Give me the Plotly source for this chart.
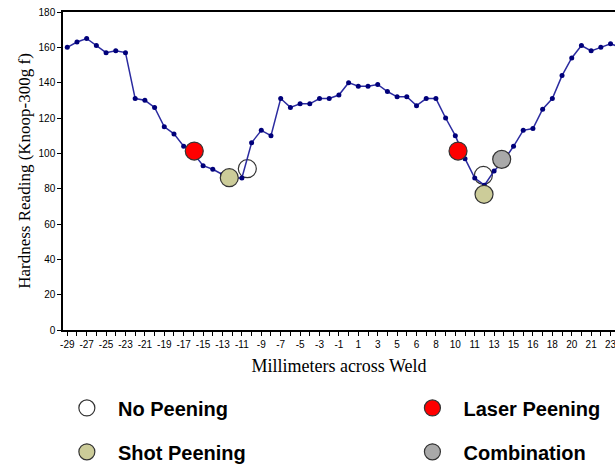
import plotly.graph_objects as go

# Hardness profile (one reading per position index across the weld)
hardness = [160, 163, 165, 161, 157, 158, 157, 131, 130, 126,
            115, 111, 104, 100, 93, 91, 88, 86, 86, 106,
            113, 110, 131, 126, 128, 128, 131, 131, 133, 140,
            138, 138, 139, 135, 132, 132, 127, 131, 131, 120,
            110, 97, 86, 82, 90, 96, 104, 113, 114, 125,
            131, 144, 154, 161, 158, 160, 162, 160]
positions = list(range(len(hardness)))

# Tick labels (mm across weld), one label every second reading
tick_labels = ["-29", "-27", "-25", "-23", "-21", "-19", "-17", "-15", "-13", "-11",
               "-9", "-7", "-5", "-3", "-1", "1", "3", "5", "6", "8",
               "10", "11", "13", "15", "16", "18", "20", "21", "23"]

# Peening condition markers (position index, hardness)
no_peening_x = [18.56, 42.89]
no_peening_y = [91.3, 87.5]
laser_x = [13.09, 40.28]
laser_y = [101.3, 101.3]
shot_x = [16.7, 42.96]
shot_y = [86.2, 76.8]
combo_x = [44.78]
combo_y = [96.6]

n_vis = 57
tickvals = list(range(n_vis))
ticktext = [tick_labels[i // 2] if i % 2 == 0 else "" for i in range(n_vis)]

outline = dict(color="#333333", width=1.2)
msize = 18
leg_font = dict(family="Liberation Sans, Arial", size=20, color="black", weight="bold")
nb = "\u00a0\u00a0"

fig = go.Figure()
fig.add_trace(go.Scatter(x=no_peening_x, y=no_peening_y, mode="markers", name=nb + "No Peening",
                         marker=dict(size=msize, color="rgba(255,255,255,0)", line=outline),
                         legend="legend"))
fig.add_trace(go.Scatter(x=positions, y=hardness, mode="lines+markers", showlegend=False,
                         line=dict(color="#2B2BA0", width=1.5),
                         marker=dict(size=5, color="#00007A")))
fig.add_trace(go.Scatter(x=laser_x, y=laser_y, mode="markers", name=nb + "Laser Peening",
                         marker=dict(size=msize, color="#FF0000", line=outline),
                         legend="legend2"))
fig.add_trace(go.Scatter(x=shot_x, y=shot_y, mode="markers", name=nb + "Shot Peening",
                         marker=dict(size=msize, color="#CCCC99", line=outline),
                         legend="legend3"))
fig.add_trace(go.Scatter(x=combo_x, y=combo_y, mode="markers", name=nb + "Combination",
                         marker=dict(size=msize, color="#A9A9A9", line=outline),
                         legend="legend4"))

tick_font = dict(family="Liberation Sans, Arial", size=10, color="black")
xtitle_font = dict(family="Liberation Serif, Times New Roman", size=18, color="black")
ytitle_font = dict(family="Liberation Serif, Times New Roman", size=17, color="black")

def leg(x, y):
    return dict(orientation="h", x=x, xanchor="left", y=y, yanchor="middle",
                font=leg_font, bgcolor="rgba(0,0,0,0)", itemsizing="trace")

fig.update_layout(
    width=615, height=464,
    margin=dict(l=63, r=0, t=12, b=134, autoexpand=False),
    paper_bgcolor="white", plot_bgcolor="white",
    xaxis=dict(range=[-0.44, 56.46], tickmode="array", tickvals=tickvals, ticktext=ticktext,
               ticks="outside", ticklen=4, tickwidth=1, tickcolor="black",
               showline=True, linecolor="black", linewidth=1.5, mirror=True,
               showgrid=False, zeroline=False, tickfont=tick_font, tickangle=0,
               ticklabeloverflow="allow",
               title=dict(text="Millimeters across Weld", font=xtitle_font, standoff=11)),
    yaxis=dict(range=[0, 180], tickmode="array", tickvals=list(range(0, 181, 20)),
               ticks="outside", ticklen=4, tickwidth=1, tickcolor="black",
               showline=True, linecolor="black", linewidth=1.5,
               showgrid=False, zeroline=False, tickfont=tick_font,
               title=dict(text="Hardness Reading (Knoop-300g f)", font=ytitle_font, standoff=4)),
    legend=leg(0.007, -0.245),
    legend2=leg(0.633, -0.245),
    legend3=leg(0.007, -0.383),
    legend4=leg(0.633, -0.383),
)

fig.write_html("out.html")
